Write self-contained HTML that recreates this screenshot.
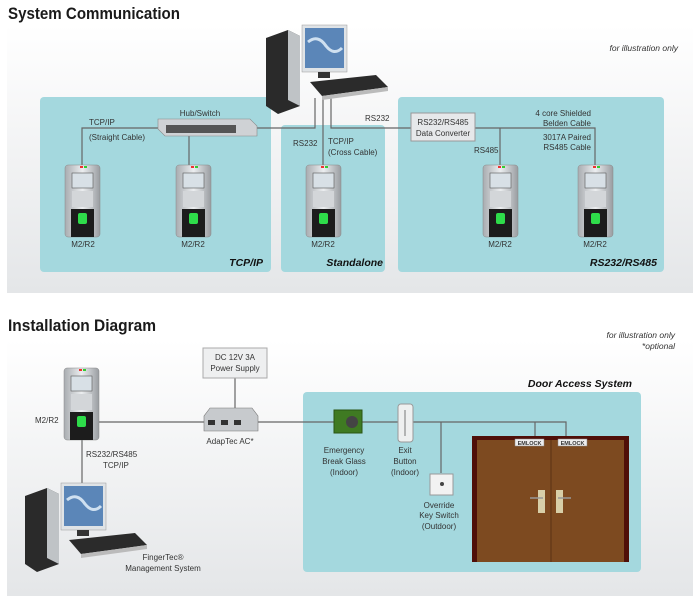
<!DOCTYPE html>
<html><head><meta charset="utf-8"><style>
html,body{margin:0;padding:0;background:#fff;}
svg{display:block;}
text{font-family:"Liberation Sans Narrow","Liberation Sans",sans-serif;fill:#333;font-size:8px;}
.t{font-size:17px;font-weight:bold;fill:#1a1a1a;}
.p{font-size:10.5px;font-weight:bold;font-style:italic;fill:#111;}
.i{font-style:italic;font-size:8.5px;}
</style></head><body>
<svg width="695" height="600" viewBox="0 0 695 600" xmlns="http://www.w3.org/2000/svg">
<defs>
<linearGradient id="bg" x1="0" y1="0" x2="0" y2="1"><stop offset="0" stop-color="#ffffff"/><stop offset="1" stop-color="#e4e6e8"/></linearGradient>
<linearGradient id="rd" x1="0" y1="0" x2="1" y2="0"><stop offset="0" stop-color="#a8acb0"/><stop offset=".5" stop-color="#eceef0"/><stop offset="1" stop-color="#999da1"/></linearGradient>
<g id="reader">
<rect x="0" y="0" width="35" height="72" rx="3" fill="url(#rd)" stroke="#888" stroke-width=".5"/>
<rect x="7" y="8" width="21" height="15" fill="#d8e0e6" stroke="#555" stroke-width=".6"/>
<rect x="7" y="26" width="21" height="16" fill="#d3d6d9"/>
<path d="M6 44 h23 v28 h-23z" fill="#1c1c1c"/>
<rect x="13" y="48" width="9" height="11" rx="2" fill="#2edc4a"/>
<rect x="15" y="1" width="3" height="2" fill="#e33"/><rect x="19" y="1" width="3" height="2" fill="#3c3"/>
</g>
<g id="pc">
<path d="M0 8 L22 0 L34 6 L34 76 L12 84 L0 76Z" fill="#2a2a2a"/>
<path d="M22 0 L34 6 L34 76 L22 70Z" fill="#bfc3c6"/>
<rect x="36" y="-5" width="45" height="47" fill="#dfe3e6" stroke="#999" stroke-width=".5"/>
<rect x="39" y="-2" width="39" height="40" fill="#5b86b8"/>
<path d="M42 12 q10 -8 18 4 q8 10 16 2" stroke="#cfe0f0" stroke-width="3" fill="none"/>
<rect x="52" y="42" width="12" height="6" fill="#333"/>
<path d="M44 52 L110 45 L122 57 L56 66Z" fill="#2b2b2b"/>
<path d="M56 66 L122 57 L122 61 L56 70Z" fill="#bbb"/>
</g>
</defs>

<rect x="7" y="25" width="686" height="268" fill="url(#bg)"/>
<text x="8" y="19" class="t" textLength="172" lengthAdjust="spacingAndGlyphs">System Communication</text>
<text x="678" y="51" class="i" text-anchor="end">for illustration only</text>
<rect x="40" y="97" width="231" height="175" rx="4" fill="#a4d8de"/>
<rect x="281" y="125" width="104" height="147" rx="4" fill="#a4d8de"/>
<rect x="398" y="97" width="266" height="175" rx="4" fill="#a4d8de"/>
<text x="263" y="266" class="p" text-anchor="end">TCP/IP</text>
<text x="383" y="266" class="p" text-anchor="end">Standalone</text>
<text x="657" y="266" class="p" text-anchor="end">RS232/RS485</text>

<g stroke="#666" stroke-width="1.2" fill="none">
<path d="M82 165 V128 H158"/>
<path d="M189 136 V165"/>
<path d="M257 128 H315 V98"/>
<path d="M323 98 V165"/>
<path d="M331 98 V128 H411"/>
<path d="M475 128 H595 V165"/>
<path d="M500 128 V165"/>
</g>
<path d="M158 119 L250 119 L257 126 L257 136 L165 136 L158 129Z" fill="#cfd2d5" stroke="#888" stroke-width=".6"/>
<rect x="166" y="125" width="70" height="8" fill="#555"/>
<text x="200" y="116" text-anchor="middle">Hub/Switch</text>
<rect x="411" y="113" width="64" height="28" fill="#e6e8ea" stroke="#999"/>
<text x="443" y="125" text-anchor="middle">RS232/RS485</text>
<text x="443" y="136" text-anchor="middle">Data Converter</text>
<use href="#pc" x="266" y="30"/>

<use href="#reader" x="65" y="165"/><use href="#reader" x="176" y="165"/>
<use href="#reader" x="306" y="165"/><use href="#reader" x="483" y="165"/><use href="#reader" x="578" y="165"/>
<g text-anchor="middle">
<text x="83" y="247">M2/R2</text><text x="193" y="247">M2/R2</text><text x="323" y="247">M2/R2</text>
<text x="500" y="247">M2/R2</text><text x="595" y="247">M2/R2</text>
</g>
<text x="89" y="125">TCP/IP</text>
<text x="89" y="140">(Straight Cable)</text>
<text x="293" y="146">RS232</text>
<text x="328" y="144">TCP/IP</text>
<text x="328" y="155">(Cross Cable)</text>
<text x="365" y="121">RS232</text>
<text x="474" y="153">RS485</text>
<g text-anchor="end">
<text x="591" y="116">4 core Shielded</text><text x="591" y="126">Belden Cable</text>
<text x="591" y="140">3017A Paired</text><text x="591" y="150">RS485 Cable</text>
</g>

<rect x="7" y="340" width="686" height="256" fill="url(#bg)"/>
<text x="8" y="331" class="t" textLength="148" lengthAdjust="spacingAndGlyphs">Installation Diagram</text>
<text x="675" y="338" class="i" text-anchor="end">for illustration only</text>
<text x="675" y="349" class="i" text-anchor="end">*optional</text>
<rect x="303" y="392" width="338" height="180" rx="4" fill="#a4d8de"/>
<text x="632" y="387" class="p" text-anchor="end">Door Access System</text>

<g stroke="#666" stroke-width="1.2" fill="none">
<path d="M98 422 H566 V436"/>
<path d="M535 422 V436"/>
<path d="M441 422 V473"/>
<path d="M82 440 V483"/>
<path d="M235 378 V410"/>
</g>
<rect x="203" y="348" width="64" height="30" fill="#eeeff0" stroke="#aaa"/>
<text x="235" y="360" text-anchor="middle">DC 12V 3A</text>
<text x="235" y="371" text-anchor="middle">Power Supply</text>
<path d="M210 408 L252 408 L258 416 L258 431 L204 431 L204 416Z" fill="#c7cacd" stroke="#777" stroke-width=".6"/>
<rect x="208" y="420" width="7" height="5" fill="#333"/><rect x="221" y="420" width="7" height="5" fill="#333"/><rect x="234" y="420" width="7" height="5" fill="#333"/>
<text x="230" y="444" text-anchor="middle">AdapTec AC*</text>

<use href="#reader" x="64" y="368"/>
<text x="35" y="423">M2/R2</text>
<text x="86" y="457">RS232/RS485</text>
<text x="103" y="468">TCP/IP</text>
<use href="#pc" x="25" y="488"/>
<text x="163" y="560" text-anchor="middle">FingerTec®</text>
<text x="163" y="571" text-anchor="middle">Management System</text>

<rect x="334" y="410" width="28" height="23" fill="#3f7a22" stroke="#2a5514"/>
<circle cx="352" cy="422" r="6" fill="#444"/>
<g text-anchor="middle">
<text x="344" y="453">Emergency</text><text x="344" y="464">Break Glass</text><text x="344" y="475">(Indoor)</text>
<text x="405" y="453">Exit</text><text x="405" y="464">Button</text><text x="405" y="475">(Indoor)</text>
<text x="439" y="508">Override</text><text x="439" y="518">Key Switch</text><text x="439" y="529">(Outdoor)</text>
</g>
<rect x="398" y="404" width="15" height="38" rx="3" fill="#eef0f0" stroke="#999"/>
<line x1="405" y1="410" x2="405" y2="436" stroke="#777"/>
<rect x="430" y="474" width="23" height="21" fill="#f2f2f2" stroke="#999"/>
<circle cx="442" cy="484" r="2" fill="#444"/>
<rect x="472" y="436" width="157" height="126" fill="#4f0f08"/>
<rect x="477" y="440" width="147" height="122" fill="#7d4a20"/>
<line x1="551" y1="440" x2="551" y2="562" stroke="#5a3214" stroke-width="1"/>
<rect x="515" y="439" width="29" height="7" fill="#eee" stroke="#888" stroke-width=".5"/>
<rect x="558" y="439" width="29" height="7" fill="#eee" stroke="#888" stroke-width=".5"/>
<text x="529.5" y="445" text-anchor="middle" style="font-size:5.5px;font-weight:bold">EMLOCK</text>
<text x="572.5" y="445" text-anchor="middle" style="font-size:5.5px;font-weight:bold">EMLOCK</text>
<rect x="538" y="490" width="7" height="23" fill="#d8cfa8"/><rect x="556" y="490" width="7" height="23" fill="#d8cfa8"/>
<line x1="530" y1="498" x2="543" y2="498" stroke="#999" stroke-width="1.5"/>
<line x1="558" y1="498" x2="571" y2="498" stroke="#999" stroke-width="1.5"/>
</svg>
</body></html>
